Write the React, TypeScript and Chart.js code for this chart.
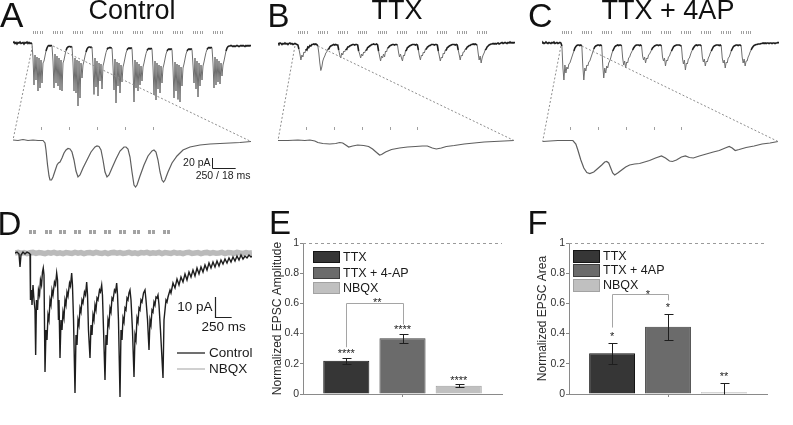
import React, { useEffect, useRef } from 'react';
import { Chart, registerables } from 'chart.js';
Chart.register(...registerables);

const FONT = '"Liberation Sans", Arial, Helvetica, sans-serif';
Chart.defaults.font.family = FONT;

// ---------------- DATA ----------------
// stimulation (ms)
const topStimStarts = [200, 400, 600, 800, 1000, 1200, 1400, 1600, 1800, 2000];
const topStimPulses = [0, 22, 44, 66, 88];
const zoomStim = [21, 42, 63, 84, 105];
const dStimStarts = [210, 445, 665, 885, 1110, 1335, 1555, 1775, 1995, 2220];

// Panel A (Control) full trace, pA, sampled every 10 ms
const ctrlPre = [0, 2, -1, 1, -2, 1, 0, 2, -1, 0, 1, -2, 1, 0, 2, -1, 1, -1, 0, -2];
const ctrlBursts = [
  [-30, -84, -24, -74, -28, -96, -30, -90, -34, -80, -40, -36, -26, -16, -10, -6, -5, -6, -5, -6],
  [-36, -90, -22, -80, -26, -86, -30, -94, -34, -96, -40, -34, -24, -15, -10, -8, -7, -7, -8, -7],
  [-40, -96, -30, -100, -34, -126, -36, -110, -40, -70, -44, -36, -26, -18, -12, -9, -8, -8, -9, -8],
  [-44, -103, -30, -88, -36, -106, -40, -76, -42, -92, -46, -38, -28, -19, -13, -10, -10, -9, -10, -10],
  [-46, -94, -32, -120, -38, -86, -40, -100, -44, -78, -48, -40, -30, -20, -14, -11, -10, -11, -10, -11],
  [-50, -118, -34, -90, -38, -96, -42, -84, -46, -76, -48, -40, -30, -21, -15, -12, -11, -12, -11, -12],
  [-48, -104, -36, -114, -40, -92, -44, -100, -46, -80, -50, -42, -32, -22, -16, -13, -12, -13, -12, -13],
  [-50, -110, -38, -96, -42, -113, -44, -118, -48, -86, -50, -42, -32, -22, -16, -13, -12, -13, -12, -13],
  [-44, -80, -30, -92, -36, -108, -40, -86, -44, -74, -46, -38, -28, -19, -13, -10, -9, -10, -9, -10],
  [-40, -90, -28, -84, -32, -78, -36, -82, -40, -66, -44, -36, -26, -16, -10, -7, -6, -6, -5, -6],
];
const ctrlPost = [-7, -6, -7, -6, -5, -6, -7, -6, -5, -6, -5, -6, -7, -5, -6, -5, -6, -5, -6];
// Panel A zoom [ms, pA]
const ctrlZoom: [number, number][] = [
  [0, 0], [3.75, -1], [7.5, 1], [11.25, -1], [15, 0], [18.75, -1], [22.5, -1], [24, -6], [24.75, -20], [25.9, -50],
  [27, -72], [27.75, -80], [28.9, -80], [30, -74], [31.5, -62], [33, -50], [34.1, -46], [35.25, -44], [36.75, -36],
  [38.25, -26], [39.75, -20], [41.25, -17], [42.75, -18], [44.25, -24], [45.75, -40], [47.25, -62], [48.75, -74],
  [50.25, -70], [52.5, -56], [55.5, -40], [58.5, -24], [61.5, -14], [63, -12], [64.5, -13], [66, -20], [67.5, -40],
  [69, -64], [70.5, -74], [72, -70], [74.25, -56], [77.25, -38], [80.25, -22], [83.25, -14], [84.75, -14], [86.25, -18],
  [87.75, -34], [89.25, -64], [90.75, -90], [91.9, -94], [93, -90], [95.25, -72], [98.25, -50], [101.25, -32],
  [104.25, -22], [105.75, -20], [107.25, -24], [108.75, -40], [110.25, -64], [111.75, -80], [112.9, -84], [114, -80],
  [116.25, -64], [119.25, -46], [123, -32], [127.5, -20], [132.75, -14], [140.25, -10], [147.75, -8], [155.25, -7],
  [162.75, -6], [170.25, -5], [178.5, -3],
];

// Panel B (TTX)
const ttxPre = [0, -2, 0, -1, -3, -1, -2, 0, -2, -1, -3, -1, 0, -2, -1, -3, -2, -1, -2, -3];
const ttxBursts = [
  [-4, -12, -22, -34, -24, -28, -18, -20, -12, -14, -8, -9, -5, -6, -3, -3, -2, -3, -2, -3],
  [-6, -20, -40, -55, -48, -36, -30, -26, -20, -18, -12, -12, -8, -6, -5, -4, -3, -4, -3, -4],
  [-4, -14, -24, -30, -20, -24, -16, -18, -12, -13, -8, -8, -6, -5, -4, -3, -3, -4, -3, -3],
  [-4, -16, -22, -30, -22, -26, -18, -20, -14, -14, -9, -8, -6, -5, -3, -3, -2, -3, -3, -2],
  [-4, -16, -26, -36, -26, -30, -22, -28, -16, -18, -10, -9, -6, -5, -4, -3, -3, -4, -3, -3],
  [-4, -18, -28, -22, -30, -36, -24, -26, -16, -14, -9, -8, -6, -5, -4, -3, -3, -3, -4, -3],
  [-4, -14, -26, -34, -24, -26, -18, -20, -12, -12, -8, -7, -5, -5, -3, -3, -3, -4, -3, -3],
  [-4, -16, -26, -36, -28, -30, -20, -22, -14, -14, -9, -8, -6, -5, -4, -3, -3, -3, -4, -3],
  [-4, -14, -24, -34, -24, -26, -18, -18, -12, -12, -8, -7, -5, -5, -3, -3, -2, -3, -2, -3],
  [-4, -20, -34, -26, -40, -30, -24, -20, -14, -12, -8, -6, -4, -3, -2, -2, -1, -2, -1, -2],
];
const ttxPost = [-1, 0, -2, -1, 0, 1, -1, 0, 1, 0, -1, 1, 0, 2, 0, 1, 0, 1, 0];
const ttxZoom: [number, number][] = [
  [0, -1], [7.5, -1], [15, 0], [20.25, -1], [24, 0], [27.75, -2], [30, -5], [33.75, -7], [39, -8], [43.5, -7],
  [46.5, -5], [48.75, -6], [51, -10], [53.25, -14], [56.25, -12], [60, -10], [64.5, -11], [68.25, -13], [71.25, -18],
  [74.25, -25], [76.5, -30], [78, -29], [81, -24], [85.5, -19], [91.5, -16], [97.5, -14], [103.5, -13], [108.75, -12],
  [112.5, -12], [116.25, -16], [119.25, -18], [123, -16], [126.75, -13], [132.75, -11], [140.25, -8], [147.75, -6],
  [155.25, -4], [162.75, -3], [170.25, -2], [177.75, -1],
];

// Panel C (TTX + 4AP)
const apPre = [0, 1, -1, 0, 2, 0, -1, 1, 0, -1, 1, 0, 2, -1, 0, 1, -1, 0, 1, 0];
const apBursts = [
  [-6, -50, -74, -44, -60, -48, -52, -42, -40, -34, -28, -22, -16, -10, -7, -5, -4, -4, -5, -4],
  [-6, -46, -74, -50, -56, -44, -46, -38, -36, -30, -24, -18, -12, -8, -6, -5, -4, -4, -5, -4],
  [-6, -44, -70, -50, -60, -46, -50, -40, -36, -30, -22, -16, -12, -8, -6, -5, -4, -5, -4, -4],
  [-6, -30, -44, -36, -50, -38, -40, -30, -28, -22, -18, -14, -10, -7, -5, -4, -4, -4, -5, -4],
  [-6, -26, -34, -28, -40, -30, -32, -24, -22, -18, -14, -10, -8, -6, -5, -4, -4, -5, -4, -4],
  [-6, -28, -36, -30, -46, -34, -36, -28, -26, -20, -16, -12, -8, -6, -5, -4, -4, -4, -4, -5],
  [-6, -30, -42, -34, -54, -40, -42, -32, -30, -24, -18, -14, -10, -7, -5, -4, -5, -4, -4, -4],
  [-6, -28, -38, -32, -46, -36, -38, -30, -26, -20, -16, -12, -8, -6, -5, -4, -4, -4, -5, -4],
  [-6, -30, -40, -34, -50, -38, -40, -30, -28, -22, -16, -12, -8, -6, -5, -4, -4, -5, -4, -4],
  [-6, -28, -40, -32, -46, -36, -36, -28, -24, -18, -14, -10, -7, -5, -4, -3, -3, -2, -2, -2],
];
const apPost = [-1, -1, 0, -1, 0, -1, 0, 0, -1, 0, 0, -1, 0, 0, -1, 0, 0, 1, 0];
const apZoom: [number, number][] = [
  [0.5, -3], [6, -2], [12, -1], [17.25, -1], [23.25, -1], [25.5, -8], [27, -20], [29.25, -40], [31.5, -56],
  [33.75, -65], [36, -67], [39, -64], [42, -57], [45, -50], [47.25, -44], [48.75, -43], [50.25, -46], [51.75, -56],
  [53.25, -66], [54.75, -70], [57, -66], [60, -60], [63, -54], [66, -50], [69.75, -48], [73.5, -47], [77.25, -44],
  [81, -41], [85.5, -36], [90, -32], [93, -36], [96, -42], [98.25, -43], [101.25, -40], [105, -34], [108, -32],
  [111, -35], [114, -36], [118.5, -32], [123.75, -28], [129, -24], [133.5, -21], [138, -16], [141, -13],
  [143.25, -16], [145.5, -21], [148.5, -19], [153.75, -15], [159.75, -12], [165.75, -8], [171.75, -6], [177.75, -3],
];

// Panel D [ms, pA]
const dControl: [number, number][] = [
  [0, 0], [30, 0.5], [60, -0.5], [75, -7], [90, -1], [120, 0.5], [150, -0.5], [180, 0.5], [210, 0],
  [225, -0.5], [232, -23.5], [248, -18.5], [255, -26], [270, -16], [285, -23.5], [300, -28.5], [310, -51], [322, -23.5],
  [338, -28.5], [352, -18.5], [368, -21], [382, -13.5], [398, -16], [412, -9.5], [424, -7.5],
  [435, -11], [450, -59.5], [465, -38.5], [480, -43.5], [495, -31], [510, -33.5], [525, -23.5], [540, -26], [555, -18.5],
  [570, -21], [592, -14.5], [608, -16], [625, -10],
  [638, -13.5], [652, -33.5], [660, -23.5], [675, -52.5], [690, -33.5], [705, -38.5], [720, -29.5], [735, -32.5],
  [750, -23.5], [765, -26], [780, -19.5], [795, -21.5], [818, -15], [832, -16.5], [850, -10],
  [862, -16], [878, -33.5], [900, -70], [915, -41], [930, -46], [945, -33.5], [960, -36], [975, -27.5], [990, -29.5],
  [1005, -23.5], [1020, -25], [1042, -19.5], [1058, -21], [1075, -14.5],
  [1088, -21], [1102, -38.5], [1125, -52.5], [1140, -36], [1155, -41], [1170, -31], [1185, -33.5], [1200, -26],
  [1215, -28.5], [1230, -22.5], [1245, -23.5], [1268, -18.5], [1282, -19.5], [1300, -16],
  [1312, -21], [1328, -38.5], [1350, -63.5], [1365, -41], [1380, -46], [1395, -33.5], [1410, -36], [1425, -27.5],
  [1440, -29.5], [1455, -22.5], [1470, -23.5], [1492, -18.5], [1508, -19.5], [1525, -15],
  [1538, -21], [1552, -33.5], [1575, -72], [1590, -38.5], [1605, -43.5], [1620, -32.5], [1635, -34.5], [1650, -27.5],
  [1665, -28.5], [1680, -22.5], [1695, -23.5], [1710, -20], [1725, -18.5],
  [1740, -23.5], [1762, -38.5], [1785, -62], [1800, -41], [1815, -43.5], [1830, -32.5], [1845, -34.5], [1860, -27.5],
  [1875, -28.5], [1890, -23.5], [1905, -24.5], [1928, -20], [1950, -18.5],
  [1965, -23.5], [1988, -33.5], [2010, -48.5], [2025, -33.5], [2040, -36], [2055, -28.5], [2070, -29.5], [2085, -24.5],
  [2100, -26], [2115, -22], [2130, -22.5], [2145, -21],
  [2160, -26], [2182, -38.5], [2220, -62.5], [2235, -33.5], [2250, -28.5], [2265, -23.5], [2280, -24.5], [2295, -22],
  [2325, -18.5], [2340, -20], [2370, -15],
  [2400, -17.5], [2430, -13], [2460, -16], [2490, -12], [2520, -14.5], [2550, -10.5], [2580, -13.5], [2610, -9.5],
  [2640, -12], [2670, -8.5], [2700, -11.5], [2730, -7.5], [2760, -10.5], [2790, -7], [2820, -9.5], [2850, -6],
  [2880, -8.5], [2910, -5], [2940, -7.5], [2970, -4.5], [3000, -7], [3030, -4], [3060, -6.5], [3090, -3.5],
  [3120, -5.5], [3150, -3], [3180, -5], [3210, -2.5], [3240, -4.5], [3270, -2], [3300, -4], [3330, -1.5],
  [3360, -3.5], [3390, -1], [3420, -3], [3450, -1.5], [3480, -2.5], [3510, -1], [3540, -2], [3555, -1.5],
];
// NBQX trace, sampled every 45 ms
const dNbqx = [0, 0.3, -0.2, 0.2, -0.3, 0.1, 0.3, -0.2, 0.2, 0, -0.3, 0.2, -0.1, 0.3, -0.2, 0.1, -0.3, 0.2, 0, -0.2,
  0.3, -0.1, 0.2, -0.3, 0.1, 0.2, -0.2, 0.3, 0, -0.2, 0.2, -0.3, 0.1, 0.3, -0.1, 0.2, -0.2, 0, 0.3, -0.2,
  0.1, -0.3, 0.2, 0, 0.3, -0.2, 0.1, -0.1, 0.3, -0.3, 0.2, 0, -0.2, 0.3, -0.1, 0.1, -0.3, 0.2, 0.3, -0.2,
  0, 0.2, -0.3, 0.1, 0.3, -0.2, 0.2, -0.1, 0, 0.3, -0.3, 0.2, 0.1, -0.2, 0.3, 0, -0.2, 0.2, -0.1, 0.1];

// Panels E / F
const groupsE = ['TTX', 'TTX + 4-AP', 'NBQX'];
const groupsF = ['TTX', 'TTX + 4AP', 'NBQX'];
const ampMean = [0.22, 0.37, 0.055];
const ampErr = [0.02, 0.03, 0.008];
const ampStars = ['****', '****', '****'];
const ampBracket = [0.31, 0.6, 0.46];
const areaMean = [0.27, 0.445, 0.012];
const areaErr = [0.07, 0.085, 0.063];
const areaStars = ['*', '*', '**'];
const areaBracket = [0.44, 0.66, 0.62];

// ---------------- STYLE ----------------
const BAR_FILL = ['#363636', '#6b6b6b', '#c0c0c0'];
const BAR_EDGE = ['#151515', '#3e3e3e', '#a2a2a2'];

type Pt = { x: number; y: number };
function buildTop(pre: number[], bursts: number[][], post: number[]): Pt[] {
  const pts: Pt[] = [];
  pre.forEach((v, i) => pts.push({ x: i * 10, y: v }));
  bursts.forEach((b, k) => b.forEach((v, i) => pts.push({ x: topStimStarts[k] + i * 10, y: v })));
  post.forEach((v, i) => pts.push({ x: 2200 + i * 10, y: v }));
  return pts;
}
const toPts = (arr: [number, number][]): Pt[] => arr.map(([x, y]) => ({ x, y }));

const crisp = (v: number) => Math.round(v) + 0.5;

function tracePlugin(cfg: { bottom: Pt[]; win: number[]; winY: number; scaleBar?: boolean }) {
  return {
    id: 'traceDecor',
    afterDatasetsDraw(chart: any) {
      const { ctx } = chart;
      const { x, y, x2, y2 } = chart.scales;
      ctx.save();
      // dotted zoom lines
      ctx.strokeStyle = '#8c8c8c';
      ctx.lineWidth = 1;
      ctx.setLineDash([2, 2]);
      const f = cfg.bottom[0];
      const l = cfg.bottom[cfg.bottom.length - 1];
      ctx.beginPath();
      ctx.moveTo(x.getPixelForValue(cfg.win[0]), y.getPixelForValue(cfg.winY));
      ctx.lineTo(x2.getPixelForValue(f.x), y2.getPixelForValue(f.y));
      ctx.moveTo(x.getPixelForValue(cfg.win[1]), y.getPixelForValue(cfg.winY));
      ctx.lineTo(x2.getPixelForValue(l.x), y2.getPixelForValue(l.y));
      ctx.stroke();
      ctx.setLineDash([]);
      // stimulus markers
      ctx.fillStyle = '#a0a0a0';
      const ty = y.getPixelForValue(21);
      topStimStarts.forEach((s) =>
        topStimPulses.forEach((p) => ctx.fillRect(Math.round(x.getPixelForValue(s + p)), Math.round(ty - 1.5), 1, 3))
      );
      const by = y2.getPixelForValue(23);
      zoomStim.forEach((s) => ctx.fillRect(Math.round(x2.getPixelForValue(s)), Math.round(by - 1.5), 1, 3));
      if (cfg.scaleBar) {
        const sx = crisp(x2.getPixelForValue(149));
        const sy = crisp(y2.getPixelForValue(-56));
        const ey = y2.getPixelForValue(-36);
        const ex = x2.getPixelForValue(167);
        ctx.strokeStyle = '#222';
        ctx.lineWidth = 1;
        ctx.beginPath();
        ctx.moveTo(sx, ey);
        ctx.lineTo(sx, sy);
        ctx.lineTo(ex, sy);
        ctx.stroke();
        ctx.fillStyle = '#222';
        ctx.font = `10.5px ${FONT}`;
        ctx.textBaseline = 'middle';
        ctx.textAlign = 'right';
        ctx.fillText('20 pA', sx - 2, (sy + ey) / 2);
        ctx.textAlign = 'center';
        ctx.fillText('250 / 18 ms', (sx + ex) / 2 - 1, sy + 8);
      }
      ctx.restore();
    },
  };
}

function traceConfig(top: Pt[], bottom: Pt[], padRight: number, grayBelow: number, plugin: any) {
  const deep = (c: any) => Math.min(c.p0.parsed.y, c.p1.parsed.y) < grayBelow;
  return {
    type: 'line',
    data: {
      datasets: [
        {
          data: top, xAxisID: 'x', yAxisID: 'y', borderColor: '#2a2a2a', borderWidth: 1.4, pointRadius: 0, tension: 0,
          segment: {
            borderColor: (c: any) => (deep(c) ? '#6e6e6e' : '#1e1e1e'),
            borderWidth: (c: any) => (deep(c) ? 1 : 1.6),
          },
        },
        { data: bottom, xAxisID: 'x2', yAxisID: 'y2', borderColor: '#5e5e5e', borderWidth: 1.2, pointRadius: 0, tension: 0 },
      ],
    },
    options: {
      animation: false,
      responsive: false,
      events: [],
      layout: { padding: { left: 13, right: padRight, top: 28, bottom: 0 } },
      plugins: { legend: { display: false }, tooltip: { enabled: false } },
      scales: {
        x: { type: 'linear', display: false, min: 0, max: 2380 },
        x2: { type: 'linear', display: false, min: 0, max: 178.5 },
        y: { type: 'linear', display: false, min: -314, max: 30 },
        y2: { type: 'linear', display: false, min: -120, max: 224 },
      },
    },
    plugins: [plugin],
  };
}

const dPlugin = {
  id: 'dDecor',
  afterDatasetsDraw(chart: any) {
    const { ctx, chartArea: ca } = chart;
    const { x, y } = chart.scales;
    ctx.save();
    // stimulus blocks
    ctx.fillStyle = '#a3a3a3';
    const sy = Math.round(y.getPixelForValue(10.5));
    dStimStarts.forEach((s) => {
      const px = Math.round(x.getPixelForValue(s));
      ctx.fillRect(px, sy - 2, 3, 4);
      ctx.fillRect(px + 4, sy - 2, 3, 4);
    });
    // scale bar
    const bx = crisp(x.getPixelForValue(3000));
    const by = crisp(y.getPixelForValue(-32));
    const ty = y.getPixelForValue(-22);
    const ex = x.getPixelForValue(3250);
    ctx.strokeStyle = '#222';
    ctx.lineWidth = 1.2;
    ctx.beginPath();
    ctx.moveTo(bx, ty);
    ctx.lineTo(bx, by);
    ctx.lineTo(ex, by);
    ctx.stroke();
    ctx.fillStyle = '#1a1a1a';
    ctx.font = `13.5px ${FONT}`;
    ctx.textBaseline = 'middle';
    ctx.textAlign = 'right';
    ctx.fillText('10 pA', bx - 3, (by + ty) / 2);
    ctx.textAlign = 'center';
    ctx.fillText('250 ms', (bx + ex) / 2 + 0, by + 10);
    // legend
    ctx.lineWidth = 2;
    ctx.strokeStyle = '#707070';
    ctx.beginPath();
    ctx.moveTo(ca.left + 162, ca.top + 128);
    ctx.lineTo(ca.left + 190, ca.top + 128);
    ctx.stroke();
    ctx.strokeStyle = '#d0d0d0';
    ctx.beginPath();
    ctx.moveTo(ca.left + 162, ca.top + 144);
    ctx.lineTo(ca.left + 190, ca.top + 144);
    ctx.stroke();
    ctx.textAlign = 'left';
    ctx.fillText('Control', ca.left + 194, ca.top + 128);
    ctx.fillText('NBQX', ca.left + 194, ca.top + 144);
    ctx.restore();
  },
};

const dConfig = {
  type: 'line',
  data: {
    datasets: [
      { data: toPts(dControl), borderColor: '#1e1e1e', borderWidth: 1.4, pointRadius: 0, tension: 0 },
      { data: dNbqx.map((v, i) => ({ x: i * 45, y: v })), borderColor: '#bababa', borderWidth: 5.5, pointRadius: 0, tension: 0 },
    ],
  },
  options: {
    animation: false,
    responsive: false,
    events: [],
    layout: { padding: { left: 15, right: 10, top: 20, bottom: 0 } },
    plugins: { legend: { display: false }, tooltip: { enabled: false } },
    scales: {
      x: { type: 'linear', display: false, min: 0, max: 3555 },
      y: { type: 'linear', display: false, min: -86, max: 14 },
    },
  },
  plugins: [dPlugin],
};

function barPlugin(cfg: {
  mean: number[]; err: number[]; stars: string[]; starGap: number; bracket: number[];
  bracketStar: string; bracketStarAt: number[]; labels: string[]; legendLeft: number; legendRows: number[]; boxH: number;
}) {
  return {
    id: 'barDecor',
    afterDatasetsDraw(chart: any) {
      const { ctx, chartArea: ca } = chart;
      const { x, y } = chart.scales;
      ctx.save();
      // reference line
      ctx.strokeStyle = '#9a9a9a';
      ctx.lineWidth = 1.2;
      ctx.setLineDash([3, 3]);
      const y1 = crisp(y.getPixelForValue(1));
      ctx.beginPath();
      ctx.moveTo(ca.left, y1);
      ctx.lineTo(ca.right, y1);
      ctx.stroke();
      ctx.setLineDash([]);
      // error bars
      ctx.strokeStyle = '#1e1e1e';
      ctx.lineWidth = 1;
      cfg.mean.forEach((m, i) => {
        const px = crisp(x.getPixelForValue(i + 1));
        const hi = crisp(y.getPixelForValue(m + cfg.err[i]));
        const loV = m - cfg.err[i];
        const lo = crisp(y.getPixelForValue(Math.max(0, loV)));
        ctx.beginPath();
        ctx.moveTo(px, lo);
        ctx.lineTo(px, hi);
        ctx.moveTo(px - 4, hi);
        ctx.lineTo(px + 5, hi);
        if (loV > 0) {
          ctx.moveTo(px - 4, lo);
          ctx.lineTo(px + 5, lo);
        }
        ctx.stroke();
      });
      // bracket
      ctx.strokeStyle = '#a5a5a5';
      const bx1 = crisp(x.getPixelForValue(1));
      const bx2 = crisp(x.getPixelForValue(2));
      const byTop = crisp(y.getPixelForValue(cfg.bracket[1]));
      ctx.beginPath();
      ctx.moveTo(bx1, y.getPixelForValue(cfg.bracket[0]));
      ctx.lineTo(bx1, byTop);
      ctx.lineTo(bx2, byTop);
      ctx.lineTo(bx2, y.getPixelForValue(cfg.bracket[2]));
      ctx.stroke();
      // stars
      ctx.fillStyle = '#222';
      ctx.font = `11px ${FONT}`;
      ctx.textAlign = 'center';
      ctx.textBaseline = 'alphabetic';
      cfg.mean.forEach((m, i) => {
        ctx.fillText(cfg.stars[i], x.getPixelForValue(i + 1), y.getPixelForValue(m + cfg.err[i] + cfg.starGap) + 6.3);
      });
      ctx.fillText(cfg.bracketStar, x.getPixelForValue(cfg.bracketStarAt[0]), y.getPixelForValue(cfg.bracketStarAt[1]) + 6.3);
      // legend
      ctx.font = `12.5px ${FONT}`;
      ctx.textAlign = 'left';
      ctx.textBaseline = 'middle';
      cfg.labels.forEach((lab, i) => {
        const bx = ca.left + cfg.legendLeft;
        const cy = ca.top + cfg.legendRows[i];
        ctx.fillStyle = BAR_FILL[i];
        ctx.fillRect(bx, Math.round(cy - cfg.boxH / 2), 27, cfg.boxH);
        ctx.strokeStyle = BAR_EDGE[i];
        ctx.lineWidth = 1;
        ctx.strokeRect(bx + 0.5, Math.round(cy - cfg.boxH / 2) + 0.5, 26, cfg.boxH - 1);
        ctx.fillStyle = '#1a1a1a';
        ctx.fillText(lab, bx + 30, cy + 0.5);
      });
      ctx.restore();
    },
  };
}

function barConfig(mean: number[], err: number[], title: string, yWidth: number, padRight: number, plugin: any) {
  return {
    type: 'bar',
    data: {
      datasets: [
        {
          data: mean.map((m, i) => ({ x: i + 1, y: m })),
          backgroundColor: BAR_FILL,
          borderColor: BAR_EDGE,
          borderWidth: 1,
          barPercentage: 0.82,
          categoryPercentage: 1,
        },
      ],
    },
    options: {
      animation: false,
      responsive: false,
      events: [],
      layout: { padding: { top: 43, right: padRight, left: 0, bottom: 0 } },
      plugins: { legend: { display: false }, tooltip: { enabled: false } },
      scales: {
        x: {
          type: 'linear',
          min: 0.23,
          max: 3.77,
          offset: false,
          afterBuildTicks: (a: any) => {
            a.ticks = [{ value: 2 }];
          },
          ticks: { callback: () => '', maxRotation: 0 },
          grid: { drawOnChartArea: false, drawTicks: true, tickLength: 3, color: '#888', offset: false },
          border: { display: true, color: '#8a8a8a' },
          afterFit: (s: any) => {
            s.height = 31;
          },
        },
        y: {
          type: 'linear',
          min: 0,
          max: 1,
          ticks: {
            stepSize: 0.2,
            font: { size: 10.5 },
            color: '#333',
            padding: 1,
            callback: (v: any) => String(Math.round(Number(v) * 10) / 10),
          },
          grid: { drawOnChartArea: false, drawTicks: true, tickLength: 3, color: '#888' },
          border: { display: true, color: '#8a8a8a' },
          title: { display: true, text: title, font: { size: 12 }, color: '#2a2a2a', padding: { top: 8, bottom: 0 } },
          afterFit: (s: any) => {
            s.width = yWidth;
          },
        },
      },
    },
    plugins: [plugin],
  };
}

function ChartBox({ x, y, w, h, make }: { x: number; y: number; w: number; h: number; make: () => any }) {
  const ref = useRef<HTMLCanvasElement>(null);
  useEffect(() => {
    const chart = new Chart(ref.current as HTMLCanvasElement, make());
    return () => chart.destroy();
  }, []);
  return (
    <canvas ref={ref} width={w} height={h} style={{ position: 'absolute', left: x, top: y, width: w, height: h }} />
  );
}

function Label({ text, x, base, size, center }: { text: string; x: number; base: number; size: number; center?: boolean }) {
  const style: React.CSSProperties = {
    position: 'absolute',
    top: base - 0.8465 * size,
    fontSize: size,
    lineHeight: `${size}px`,
    fontFamily: FONT,
    color: '#111',
    whiteSpace: 'nowrap',
  };
  if (center) {
    style.left = x - 150;
    style.width = 300;
    style.textAlign = 'center';
  } else {
    style.left = x;
  }
  return <div style={style}>{text}</div>;
}

export default function App() {
  const aTop = buildTop(ctrlPre, ctrlBursts, ctrlPost);
  const aZoom = toPts(ctrlZoom);
  const bTop = buildTop(ttxPre, ttxBursts, ttxPost);
  const bZoom = toPts(ttxZoom);
  const cTop = buildTop(apPre, apBursts, apPost);
  const cZoom = toPts(apZoom);
  return (
    <div style={{ position: 'absolute', left: 0, top: 0, width: 793, height: 425, background: '#fff', overflow: 'hidden' }}>
      <ChartBox x={0} y={0} w={262} h={200}
        make={() => traceConfig(aTop, aZoom, 11, -18, tracePlugin({ bottom: aZoom, win: [195, 400], winY: -6, scaleBar: true }))} />
      <ChartBox x={265} y={0} w={262} h={200}
        make={() => traceConfig(bTop, bZoom, 12, -16, tracePlugin({ bottom: bZoom, win: [170, 400], winY: -6 }))} />
      <ChartBox x={529} y={0} w={262} h={200}
        make={() => traceConfig(cTop, cZoom, 12, -16, tracePlugin({ bottom: cZoom, win: [190, 400], winY: -6 }))} />
      <ChartBox x={0} y={205} w={262} h={220} make={() => dConfig} />
      <ChartBox x={262} y={200} w={265} h={225}
        make={() => barConfig(ampMean, ampErr, 'Normalized EPSC Amplitude', 41, 25,
          barPlugin({ mean: ampMean, err: ampErr, stars: ampStars, starGap: 0.045, bracket: ampBracket, bracketStar: '**',
            bracketStarAt: [1.55, 0.627], labels: groupsE, legendLeft: 10, legendRows: [14, 30, 45], boxH: 12 }))} />
      <ChartBox x={527} y={200} w={266} h={225}
        make={() => barConfig(areaMean, areaErr, 'Normalized EPSC Area', 42, 26,
          barPlugin({ mean: areaMean, err: areaErr, stars: areaStars, starGap: 0.06, bracket: areaBracket, bracketStar: '*',
            bracketStarAt: [1.64, 0.68], labels: groupsF, legendLeft: 4, legendRows: [13, 27, 42], boxH: 13 }))} />
      <Label text="A" x={0} base={26.5} size={35} />
      <Label text="Control" x={132} base={20} size={27} center />
      <Label text="B" x={267.5} base={26.5} size={33} />
      <Label text="TTX" x={397} base={20} size={27} center />
      <Label text="C" x={528} base={26.5} size={34} />
      <Label text="TTX + 4AP" x={668} base={20} size={27} center />
      <Label text="D" x={-2.5} base={235} size={33} />
      <Label text="E" x={269} base={234} size={33} />
      <Label text="F" x={527.5} base={234} size={33} />
    </div>
  );
}
